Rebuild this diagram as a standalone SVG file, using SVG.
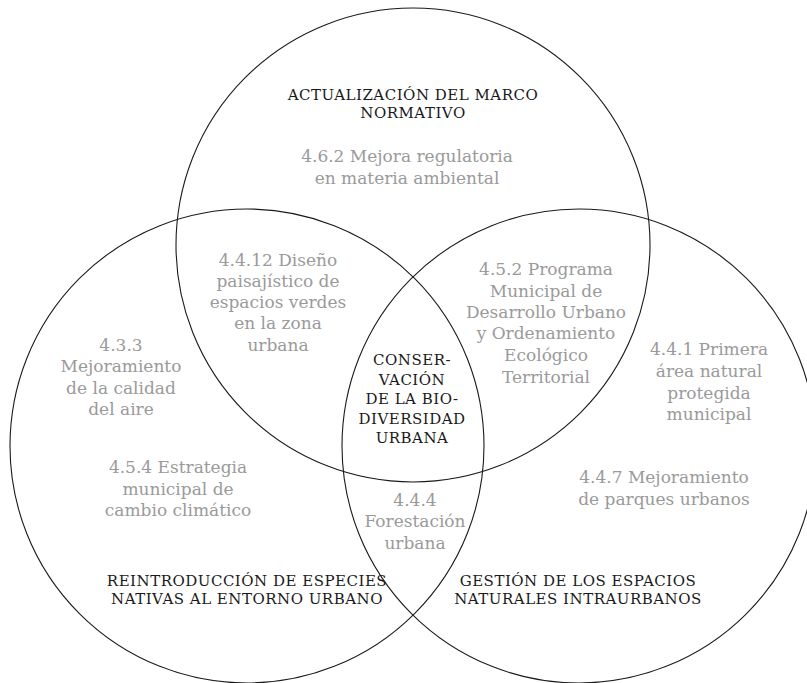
<svg xmlns="http://www.w3.org/2000/svg" width="807" height="683" viewBox="0 0 807 683">
<style>
.c{fill:none;stroke:#1a1a1a;stroke-width:1.1}
.h{font-family:"DejaVu Serif","Liberation Serif",serif;font-size:15px;letter-spacing:0.5px;fill:#1a1a1a;text-anchor:middle}
.g{font-family:"DejaVu Serif","Liberation Serif",serif;font-size:17px;fill:#9a9a9a;text-anchor:middle}
</style>
<rect width="807" height="683" fill="#fff"/>
<g id="circles">
<circle id="circle-top" class="c" cx="413" cy="245" r="237"/>
<circle id="circle-left" class="c" cx="247" cy="446" r="237"/>
<circle id="circle-right" class="c" cx="579" cy="446" r="237"/>
</g>
<g id="connectors"/>
<g id="top-label"><text class="h"><tspan x="413" y="100">ACTUALIZACIÓN DEL MARCO</tspan><tspan x="413" y="117.5">NORMATIVO</tspan></text></g>
<g id="top-only"><text class="g"><tspan x="407" y="162">4.6.2 Mejora regulatoria</tspan><tspan x="407" y="184">en materia ambiental</tspan></text></g>
<g id="top-left"><text class="g"><tspan x="278" y="266">4.4.12 Diseño</tspan><tspan x="278" y="287">paisajístico de</tspan><tspan x="278" y="308">espacios verdes</tspan><tspan x="278" y="329">en la zona</tspan><tspan x="278" y="351">urbana</tspan></text></g>
<g id="top-right"><text class="g"><tspan x="546" y="275">4.5.2 Programa</tspan><tspan x="546" y="297">Municipal de</tspan><tspan x="546" y="318">Desarrollo Urbano</tspan><tspan x="546" y="339">y Ordenamiento</tspan><tspan x="546" y="361">Ecológico</tspan><tspan x="546" y="383">Territorial</tspan></text></g>
<g id="left-only-1"><text class="g"><tspan x="121" y="351">4.3.3</tspan><tspan x="121" y="372">Mejoramiento</tspan><tspan x="121" y="394">de la calidad</tspan><tspan x="121" y="415">del aire</tspan></text></g>
<g id="left-only-2"><text class="g"><tspan x="178" y="473">4.5.4 Estrategia</tspan><tspan x="178" y="495">municipal de</tspan><tspan x="178" y="516">cambio climático</tspan></text></g>
<g id="center"><text class="h"><tspan x="412" y="365">CONSER-</tspan><tspan x="412" y="384.5">VACIÓN</tspan><tspan x="412" y="404">DE LA BIO-</tspan><tspan x="412" y="423.5">DIVERSIDAD</tspan><tspan x="412" y="443">URBANA</tspan></text></g>
<g id="right-only-1"><text class="g"><tspan x="709" y="355">4.4.1 Primera</tspan><tspan x="709" y="377">área natural</tspan><tspan x="709" y="399">protegida</tspan><tspan x="709" y="420">municipal</tspan></text></g>
<g id="right-only-2"><text class="g"><tspan x="664" y="483">4.4.7 Mejoramiento</tspan><tspan x="664" y="505">de parques urbanos</tspan></text></g>
<g id="left-right"><text class="g"><tspan x="415" y="506">4.4.4</tspan><tspan x="415" y="527">Forestación</tspan><tspan x="415" y="549">urbana</tspan></text></g>
<g id="left-label"><text class="h"><tspan x="247" y="586">REINTRODUCCIÓN DE ESPECIES</tspan><tspan x="247" y="604">NATIVAS AL ENTORNO URBANO</tspan></text></g>
<g id="right-label"><text class="h"><tspan x="578" y="586">GESTIÓN DE LOS ESPACIOS</tspan><tspan x="578" y="604">NATURALES INTRAURBANOS</tspan></text></g>
</svg>
